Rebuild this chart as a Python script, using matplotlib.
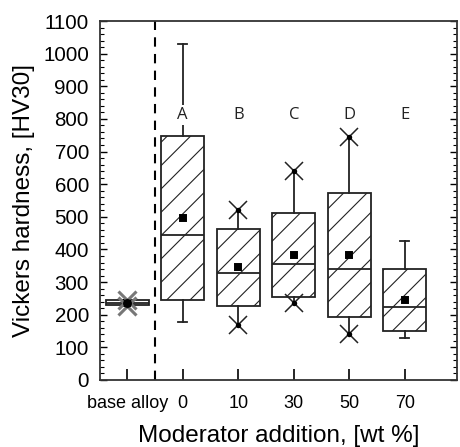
import matplotlib
matplotlib.use("Agg")
import matplotlib.pyplot as plt
from matplotlib.ticker import MultipleLocator

DPI = 140
def p(v):
    # sizes tuned for 100 dpi, converted to the real dpi
    return v * 100.0 / DPI

plt.rcParams['font.family'] = ['Liberation Sans', 'DejaVu Sans']
plt.rcParams['hatch.linewidth'] = p(0.8)
plt.rcParams['hatch.color'] = '#333333'

categories = ['base alloy', '0', '10', '30', '50', '70']
letters = ['', 'A', 'B', 'C', 'D', 'E']
q1 = [230, 245, 228, 254, 192, 149]
median = [237, 444, 327, 354, 339, 225]
q3 = [245, 748, 463, 511, 574, 339]
mean = [237, 497, 347, 383, 383, 245]
whis_lo = [228, 177, 168, 235, 141, 128]
whis_hi = [245, 1031, 521, 640, 745, 426]
# whisker-end style: 'cap' = bar cap, 'x' = cross marker, 'grey' = grey crosses
end_style = ['grey', 'cap', 'x', 'x', 'x', 'cap']

fig = plt.figure(figsize=(460 / DPI, 447 / DPI), dpi=DPI)
ax = fig.add_axes([0.2174, 0.1499, 0.9935 - 0.2174, 0.953 - 0.1499])

pos = list(range(len(categories)))
stats = []
for i in pos:
    stats.append(dict(med=median[i], q1=q1[i], q3=q3[i],
                      whislo=whis_lo[i], whishi=whis_hi[i],
                      mean=mean[i], fliers=[]))

edge = '#222222'
lw = p(1.3)
bp = ax.bxp(stats, positions=pos, widths=0.78, patch_artist=True,
            showmeans=True, showcaps=False, showfliers=False,
            boxprops=dict(facecolor='white', edgecolor=edge, linewidth=lw, hatch='//'),
            medianprops=dict(color=edge, linewidth=lw),
            whiskerprops=dict(color=edge, linewidth=lw),
            meanprops=dict(marker='s', markerfacecolor='black', markeredgecolor='black',
                           markersize=p(4)), zorder=2)
bp['boxes'][0].set_hatch('')

for i in pos:
    if end_style[i] == 'cap':
        ax.plot([i - 0.08, i + 0.08], [whis_hi[i]] * 2, color=edge, lw=lw, zorder=3)
        ax.plot([i - 0.08, i + 0.08], [whis_lo[i]] * 2, color=edge, lw=lw, zorder=3)
    elif end_style[i] == 'x':
        ax.plot([i, i], [whis_lo[i], whis_hi[i]], ls='none', marker='x', color=edge,
                markersize=p(13), mew=p(1.1), zorder=3)
        ax.plot([i, i], [whis_lo[i], whis_hi[i]], ls='none', marker='o', color='black',
                markersize=p(2.5), zorder=3)
    else:
        ax.plot([i, i], [whis_lo[i], whis_hi[i]], ls='none', marker='x', color='#777777',
                markersize=p(13), mew=p(2.2), zorder=3)
        ax.plot([i], [mean[i]], ls='none', marker='o', color='black', markersize=p(5),
                zorder=4)

for i in pos:
    if letters[i]:
        ax.text(i, 812, letters[i], ha='center', va='center', fontsize=p(12),
                family=['Open Sans', 'DejaVu Sans'], color='#222222',
                bbox=dict(facecolor='white', edgecolor='none', pad=p(1.5)), zorder=5)

ax.axvline(0.5, color='black', lw=p(1.5), ls=(0, (4.5, 3.5)), zorder=1)

ax.set_xlim(-0.49, 5.94)
ax.set_ylim(0, 1100)
ax.set_xticks(pos)
ax.set_xticklabels(categories, fontsize=p(13))
ax.yaxis.set_major_locator(MultipleLocator(100))
ax.yaxis.set_minor_locator(MultipleLocator(20))
ax.tick_params(axis='y', which='major', direction='in', length=p(5), width=p(1),
               right=True, labelsize=p(14.8), pad=p(8))
ax.tick_params(axis='y', which='minor', direction='in', length=p(3), width=p(0.8),
               right=True)
ax.tick_params(axis='x', which='major', direction='in', length=p(8), width=p(1.2),
               top=False, pad=p(11))
for s in ax.spines.values():
    s.set_linewidth(lw)
    s.set_color('#333333')

ax.set_xlabel('Moderator addition, [wt %]', fontsize=p(17.5), labelpad=p(9))
ax.set_ylabel('Vickers hardness, [HV30]', fontsize=p(17.5), labelpad=p(6))

fig.savefig('out.png', dpi=DPI)
